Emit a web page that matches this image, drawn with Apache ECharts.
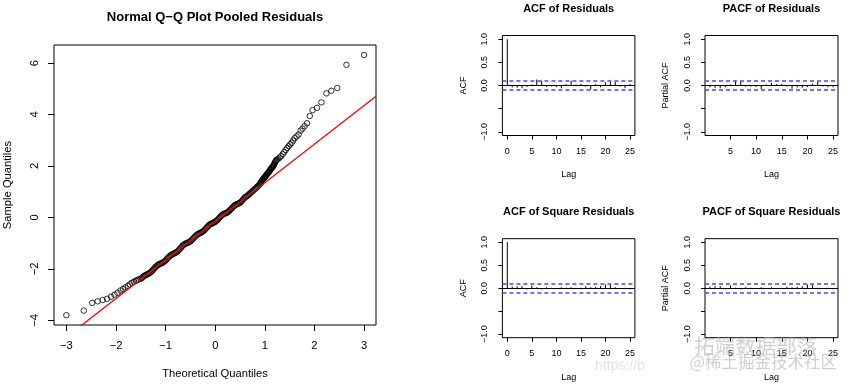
<!DOCTYPE html>
<html><head><meta charset="utf-8">
<script src="https://cdn.jsdelivr.net/npm/echarts@6/dist/echarts.min.js"></script>
<style>html,body{margin:0;padding:0;background:#fff}#c{width:846px;height:386px}</style>
</head><body><div id="c"></div>
<script>
// ---------- DATA ----------
const qqTheoretical = [
  -3.00,-2.65,-2.48,-2.37,-2.27,-2.18,-2.10,-2.03,-1.97,-1.91,-1.86,-1.81,-1.76,-1.72,-1.68,-1.64,-1.60,-1.57,-1.54,
  -1.50,-1.48,-1.46,-1.44,-1.42,-1.40,-1.38,-1.36,-1.34,-1.32,-1.30,-1.28,-1.26,-1.24,-1.22,-1.20,-1.18,-1.16,-1.14,-1.12,
  -1.10,-1.08,-1.06,-1.04,-1.02,-1.00,-0.98,-0.96,-0.94,-0.92,-0.90,-0.88,-0.86,-0.84,-0.82,-0.80,-0.78,-0.76,-0.74,-0.72,
  -0.70,-0.68,-0.66,-0.64,-0.62,-0.60,-0.58,-0.56,-0.54,-0.52,-0.50,-0.48,-0.46,-0.44,-0.42,-0.40,-0.38,-0.36,-0.34,-0.32,
  -0.30,-0.28,-0.26,-0.24,-0.22,-0.20,-0.18,-0.16,-0.14,-0.12,-0.10,-0.08,-0.06,-0.04,-0.02,0.00,0.02,0.04,0.06,0.08,
  0.10,0.12,0.14,0.16,0.18,0.20,0.22,0.24,0.26,0.28,0.30,0.32,0.34,0.36,0.38,0.40,0.42,0.44,0.46,0.48,
  0.50,0.52,0.54,0.56,0.58,0.60,0.62,0.64,0.66,0.68,0.70,0.72,0.74,0.76,0.78,0.80,0.82,0.84,0.86,0.88,0.90,
  0.91,0.92,0.93,0.94,0.95,0.96,0.97,0.98,0.99,1.00,1.01,1.02,1.03,1.04,1.05,1.06,1.07,1.08,1.09,1.10,
  1.11,1.12,1.13,1.14,1.15,1.16,1.17,1.18,1.19,1.20,1.21,1.22,1.23,1.24,
  1.27,1.30,1.33,1.36,1.39,1.42,1.45,1.48,1.51,1.54,1.57,1.60,1.64,1.68,1.72,1.76,1.80,1.85,
  1.905,1.96,2.05,2.14,2.24,2.34,2.46,2.645,3.00
];
const qqSample = [
  -3.80,-3.62,-3.32,-3.26,-3.21,-3.16,-3.08,-3.00,-2.93,-2.84,-2.78,-2.72,-2.66,-2.60,-2.54,-2.50,-2.46,-2.43,-2.40,
  -2.38,-2.35,-2.31,-2.28,-2.26,-2.24,-2.22,-2.20,-2.18,-2.16,-2.13,-2.09,-2.05,-2.00,-1.96,-1.92,-1.88,-1.85,-1.83,-1.81,
  -1.79,-1.78,-1.76,-1.73,-1.70,-1.67,-1.63,-1.58,-1.54,-1.51,-1.47,-1.45,-1.43,-1.41,-1.39,-1.37,-1.35,-1.32,-1.28,-1.24,
  -1.19,-1.15,-1.10,-1.07,-1.04,-1.02,-1.00,-0.99,-0.97,-0.95,-0.93,-0.89,-0.85,-0.81,-0.77,-0.73,-0.69,-0.66,-0.64,-0.62,
  -0.60,-0.58,-0.56,-0.53,-0.50,-0.46,-0.41,-0.37,-0.33,-0.29,-0.26,-0.25,-0.23,-0.21,-0.19,-0.17,-0.14,-0.11,-0.07,-0.02,
  0.02,0.06,0.10,0.12,0.14,0.16,0.17,0.19,0.22,0.25,0.29,0.33,0.37,0.41,0.45,0.48,0.50,0.52,0.53,0.56,
  0.57,0.61,0.65,0.70,0.74,0.78,0.81,0.83,0.86,0.90,0.93,0.97,1.00,1.04,1.07,1.11,1.14,1.18,1.22,1.26,1.30,
  1.33,1.36,1.39,1.42,1.45,1.47,1.50,1.52,1.55,1.57,1.60,1.62,1.65,1.67,1.70,1.72,1.74,1.76,1.79,1.82,
  1.85,1.88,1.91,1.93,1.95,1.97,2.00,2.03,2.08,2.12,2.16,2.19,2.22,2.24,
  2.28,2.33,2.38,2.46,2.54,2.62,2.70,2.77,2.84,2.90,2.99,3.08,3.15,3.22,3.37,3.45,3.55,3.66,
  3.94,4.17,4.26,4.47,4.82,4.92,5.03,5.93,6.31
];
const qqLineIntercept = -0.15;
const qqLineSlope = 1.5;
const qqXTicks = [-3,-2,-1,0,1,2,3];
const qqYTicks = [-4,-2,0,2,4,6];

const acfLags = [0,1,2,3,4,5,6,7,8,9,10,11,12,13,14,15,16,17,18,19,20,21,22,23,24,25];
const acfResiduals = [1.00,-0.04,-0.05,-0.06,-0.03,0.02,0.13,0.10,-0.03,-0.02,-0.03,-0.06,0.03,0.10,0.02,0.03,-0.02,-0.09,0.03,-0.04,0.07,0.08,0.08,-0.02,-0.06,0.03];
const acfSquareResiduals = [1.00,0.03,0.04,0.05,-0.03,0.06,0.02,-0.03,0.02,0.01,-0.02,0.02,0.01,0.02,-0.02,0.01,0.04,0.02,0.03,0.05,0.08,0.08,0.02,-0.02,0.01,-0.03];
const pacfLags = [1,2,3,4,5,6,7,8,9,10,11,12,13,14,15,16,17,18,19,20,21,22,23,24,25];
const pacfResiduals = [-0.04,-0.05,-0.06,-0.04,0.02,0.11,0.09,-0.02,-0.02,-0.03,-0.08,0.02,0.06,0.03,0.03,-0.02,-0.07,-0.04,-0.05,-0.03,0.04,0.08,-0.02,-0.04,-0.04];
const pacfSquareResiduals = [0.03,0.04,0.05,-0.03,0.06,0.01,-0.03,0.02,0.01,-0.02,0.02,0.00,0.02,-0.02,0.01,0.03,0.02,0.03,0.04,0.08,0.07,0.01,-0.02,0.01,-0.03];
const ciBound = 0.102;
const acfXTicks = [0,5,10,15,20,25];
const pacfXTicks = [5,10,15,20,25];
const acfYTicks = [-1,-0.5,0,0.5,1];
const acfYLabels = [-1,0,0.5,1];

// ---------- CHART ----------
const FONT = '"Liberation Sans", Arial, Helvetica, sans-serif';
const MINUS = '\u2212';
const fmtInt = v => (v < 0 ? MINUS : '') + Math.abs(v);
const fmt1 = v => (v < 0 ? MINUS : '') + Math.abs(v).toFixed(1);

const gridBoxes = [
  {left:54, top:45, width:322, height:280},
  {left:502.4, top:35.5, width:132.5, height:100},
  {left:705, top:35.5, width:133, height:100},
  {left:502.4, top:238.7, width:132.5, height:99},
  {left:705, top:238.7, width:133, height:99}
];
const grid = gridBoxes.map(g => Object.assign({show:true, borderColor:'#000', borderWidth:1,
  backgroundColor:'transparent', containLabel:false, outerBoundsMode:'none'}, g));

function axis(gi, min, max, ticks, labels, fs, margin, tickLen, fmt, rotate) {
  return {
    type:'value', gridIndex:gi, min:min, max:max,
    axisLine:{show:false, onZero:false},
    splitLine:{show:false},
    axisTick:{show:true, inside:false, length:tickLen, customValues:ticks, lineStyle:{color:'#000', width:1}},
    axisLabel:{show:true, customValues:labels, margin:margin, fontSize:fs, color:'#000',
      fontFamily:FONT, formatter:fmt, rotate:rotate||0, hideOverlap:false}
  };
}

const xAxis = [
  axis(0, -3.25, 3.24, qqXTicks, qqXTicks, 11.2, 15.5, 6, fmtInt),
  axis(1, -1, 26, acfXTicks, acfXTicks, 9, 11.5, 4, fmtInt),
  axis(2, 0.04, 25.96, pacfXTicks, pacfXTicks, 9, 11.5, 4, fmtInt),
  axis(3, -1, 26, acfXTicks, acfXTicks, 9, 11.5, 4, fmtInt),
  axis(4, 0.04, 25.96, pacfXTicks, pacfXTicks, 9, 11.5, 4, fmtInt)
];
const yAxis = [
  axis(0, -4.18, 6.70, qqYTicks, qqYTicks, 11.2, 14, 6, fmtInt, 90),
  axis(1, -1.08, 1.08, acfYTicks, acfYLabels, 9, 13, 4, fmt1, 90),
  axis(2, -1.08, 1.08, acfYTicks, acfYLabels, 9, 13, 4, fmt1, 90),
  axis(3, -1.08, 1.08, acfYTicks, acfYLabels, 9, 13, 4, fmt1, 90),
  axis(4, -1.08, 1.08, acfYTicks, acfYLabels, 9, 13, 4, fmt1, 90)
];

const zip = (a, b) => a.map((v, i) => [v, b[i]]);
const qqXMin = -3.25, qqXMax = 3.24;
const CI_COLOR = '#4444ff';

function acfSeries(gi, lags, vals) {
  return [
    {type:'bar', xAxisIndex:gi, yAxisIndex:gi, barWidth:1, silent:true,
     itemStyle:{color:'#000'}, data:zip(lags, vals), z:3,
     markLine:{silent:true, symbol:'none', label:{show:false}, animation:false,
       lineStyle:{color:'#000', type:'solid', width:1},
       data:[{yAxis:0}]}},
    {type:'line', xAxisIndex:gi, yAxisIndex:gi, silent:true, data:[], z:4,
     markLine:{silent:true, symbol:'none', label:{show:false}, animation:false,
       lineStyle:{color:CI_COLOR, type:[4,3], width:1.5, opacity:1},
       data:[{yAxis:ciBound, lineStyle:{color:CI_COLOR}}, {yAxis:-ciBound, lineStyle:{color:CI_COLOR}}]}}
  ];
}

const series = [
  {type:'scatter', xAxisIndex:0, yAxisIndex:0, silent:true, symbol:'circle', symbolSize:5.5,
   itemStyle:{color:'rgba(0,0,0,0)', borderColor:'#000', borderWidth:1}, data:zip(qqTheoretical, qqSample), z:2},
  {type:'line', xAxisIndex:0, yAxisIndex:0, silent:true, showSymbol:false, clip:true,
   lineStyle:{color:'#ff0000', width:1.3},
   data:[[qqXMin, qqLineIntercept + qqLineSlope*qqXMin],[qqXMax, qqLineIntercept + qqLineSlope*qqXMax]], z:4},
  ...acfSeries(1, acfLags, acfResiduals),
  ...acfSeries(2, pacfLags, pacfResiduals),
  ...acfSeries(3, acfLags, acfSquareResiduals),
  ...acfSeries(4, pacfLags, pacfSquareResiduals)
];

function txt(x, y, text, size, bold, rot, color, family) {
  return {type:'text', x:x, y:y, rotation:rot||0, silent:true, z:10,
    style:{text:text, fontSize:size, fontWeight:bold?'bold':'normal', fontFamily:family||FONT,
      fill:color||'#000', textAlign:'center', textVerticalAlign:'middle'}};
}
const CJK = '"Noto Sans CJK SC", sans-serif';
const graphic = [
  txt(215, 17.3, 'Normal Q\u2212Q Plot Pooled Residuals', 13, true),
  txt(215, 374, 'Theoretical Quantiles', 11.2, false),
  txt(7.5, 185, 'Sample Quantiles', 11.2, false, Math.PI/2),
  txt(568.7, 9.3, 'ACF of Residuals', 11, true),
  txt(771.5, 9.3, 'PACF of Residuals', 11, true),
  txt(568.7, 212, 'ACF of Square Residuals', 11, true),
  txt(771.5, 212, 'PACF of Square Residuals', 11, true),
  txt(568.7, 174.5, 'Lag', 9, false),
  txt(771.5, 174.5, 'Lag', 9, false),
  txt(568.7, 378, 'Lag', 9, false),
  txt(771.5, 378, 'Lag', 9, false),
  txt(463.7, 85.5, 'ACF', 9, false, Math.PI/2),
  txt(666, 85.5, 'Partial ACF', 9, false, Math.PI/2),
  txt(463.7, 288.2, 'ACF', 9, false, Math.PI/2),
  txt(666, 288.2, 'Partial ACF', 9, false, Math.PI/2),
  txt(620, 366, 'https://b', 14, false, 0, 'rgba(200,200,200,0.5)'),
  txt(755.8, 346.7, '拓端数据部落', 20.5, false, 0, 'rgba(170,170,170,0.55)', CJK),
  txt(763.3, 361.7, '@稀土掘金技术社区', 16.5, false, 0, 'rgba(170,170,170,0.55)', CJK)
];

const chart = echarts.init(document.getElementById('c'), null, {renderer:'canvas'});
chart.setOption({animation:false, backgroundColor:'#fff', grid, xAxis, yAxis, series, graphic});
</script></body></html>
